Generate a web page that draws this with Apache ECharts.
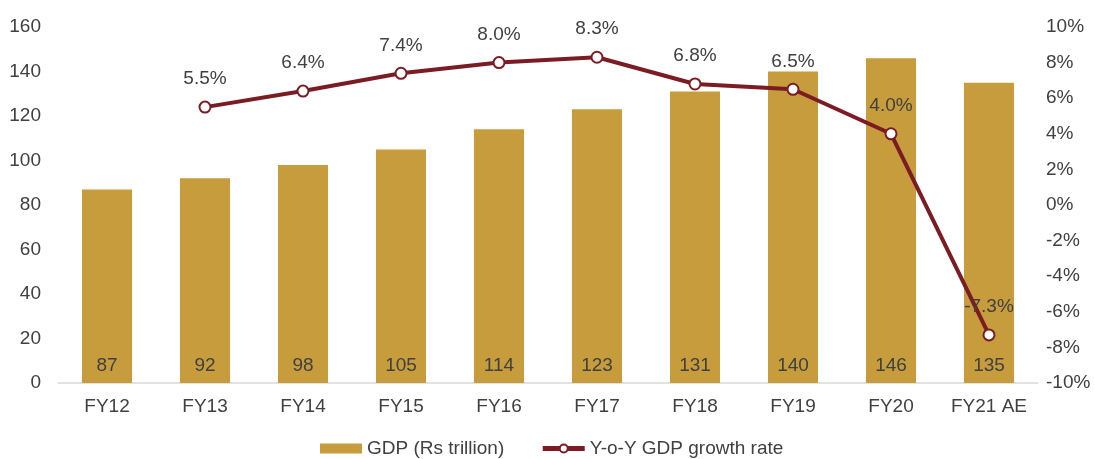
<!DOCTYPE html>
<html>
<head>
<meta charset="utf-8">
<script src="https://cdn.jsdelivr.net/npm/echarts@6/dist/echarts.min.js"></script>
<style>
  html, body { margin: 0; padding: 0; background: #fff; }
  #chart { width: 1095px; height: 459px; }
</style>
</head>
<body>
<div id="chart"></div>
<script>
const categories = ["FY12", "FY13", "FY14", "FY15", "FY16", "FY17", "FY18", "FY19", "FY20", "FY21 AE"];
const gdpValues = [87, 92, 98, 105, 114, 123, 131, 140, 146, 135];
const growthValues = [null, 5.5, 6.4, 7.4, 8.0, 8.3, 6.8, 6.5, 4.0, -7.3];

const textColor = "#404040";
const font = "Arial, 'Liberation Sans', sans-serif";
const fs = 19;

const chart = echarts.init(document.getElementById("chart"), null, { renderer: "canvas" });

chart.setOption({
  animation: false,
  textStyle: { fontFamily: font },
  grid: { left: 58, right: 57, top: 27, bottom: 76 },
  legend: {
    top: 434,
    left: 315,
    itemGap: 36,
    itemWidth: 42,
    itemHeight: 10,
    textStyle: { fontSize: fs, color: textColor, fontFamily: font },
    data: [
      { name: "GDP (Rs trillion)", icon: "rect" },
      { name: "Y-o-Y GDP growth rate", lineStyle: { width: 5 } }
    ]
  },
  xAxis: {
    type: "category",
    data: categories,
    axisLine: { lineStyle: { color: "#d9d9d9", width: 1.5 } },
    axisTick: { show: false },
    axisLabel: { color: textColor, fontSize: fs, margin: 14, interval: 0 }
  },
  yAxis: [
    {
      type: "value",
      min: 0,
      max: 160,
      interval: 20,
      splitLine: { show: false },
      axisLine: { show: false },
      axisTick: { show: false },
      axisLabel: { color: textColor, fontSize: fs, margin: 17 }
    },
    {
      type: "value",
      min: -10,
      max: 10,
      interval: 2,
      splitLine: { show: false },
      axisLine: { show: false },
      axisTick: { show: false },
      axisLabel: { color: textColor, fontSize: fs, margin: 8, formatter: "{value}%" }
    }
  ],
  series: [
    {
      name: "GDP (Rs trillion)",
      type: "bar",
      data: gdpValues,
      barWidth: 50,
      itemStyle: { color: "#C69C3C" },
      label: {
        show: true,
        position: "insideBottom",
        distance: 8,
        color: textColor,
        fontSize: fs
      }
    },
    {
      name: "Y-o-Y GDP growth rate",
      type: "line",
      yAxisIndex: 1,
      data: growthValues,
      symbol: "circle",
      symbolSize: 11,
      showAllSymbol: true,
      lineStyle: { color: "#7B1C24", width: 4 },
      itemStyle: { color: "#ffffff", borderColor: "#7B1C24", borderWidth: 2 },
      label: {
        show: true,
        position: "top",
        distance: 12,
        color: textColor,
        fontSize: fs,
        formatter: p => p.value.toFixed(1) + "%"
      }
    }
  ]
});
</script>
</body>
</html>
